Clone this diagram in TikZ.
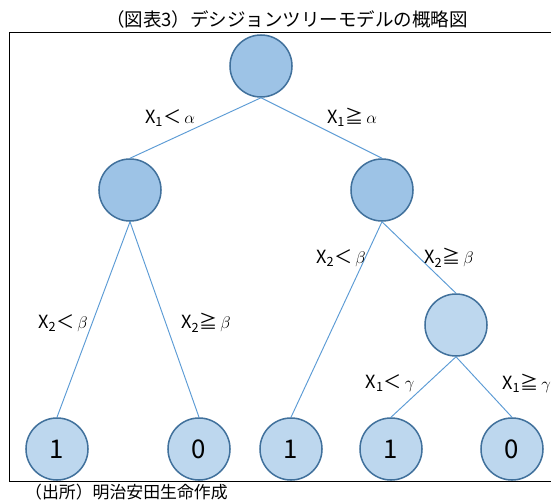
\documentclass[tikz,border=0pt]{standalone}
\usepackage{fontspec}
\setmainfont{Noto Sans CJK JP}
\usepackage{tikz}
\usetikzlibrary{positioning}
\definecolor{rim}{RGB}{65,113,156}
\definecolor{deep}{RGB}{157,195,230}
\definecolor{pale}{RGB}{189,215,238}
\definecolor{twig}{RGB}{91,155,213}
\newcommand{\cond}[3]{X\textsubscript{#1}#2\,$#3$}

\begin{document}
\begin{tikzpicture}[x=0.03cm, y=-0.03cm,
  split/.style={circle, draw=rim, line width=1.3pt, fill=deep, minimum size=1.86cm, inner sep=0pt},
  leaf/.style={split, fill=pale, font=\fontsize{22}{22}\selectfont},
  twigline/.style={draw=twig, line width=0.8pt},
  lab/.style={font=\fontsize{15.5}{15.5}\selectfont, inner sep=0pt}]
\useasboundingbox (0,0) rectangle (551,500);
\fill[white] (0,0) rectangle (551,500);
\draw[line width=0.8pt] (9,32) rectangle (580,481);
\node[font=\fontsize{15.8}{15.8}\selectfont, inner sep=0pt] (title) at (287,19) {（図表3）デシジョンツリーモデルの概略図};
\node[font=\fontsize{14.4}{14.4}\selectfont, inner sep=0pt, anchor=west] (src) at (25,492) {（出所）明治安田生命作成};
% tree
\node[split] (root) at (261,66) {};
\node[split] (lmid) at (130,190) {};
\node[split] (rmid) at (382,190) {};
\node[split, fill=pale] (rlow) at (456,325) {};
\node[leaf] (leafa) at (57,449) {1};
\node[leaf] (leafb) at (199,449) {0};
\node[leaf] (leafc) at (291,449) {1};
\node[leaf] (leafd) at (391,449) {1};
\node[leaf] (leafe) at (512,449) {0};
\draw[twigline] (root.south) -- (lmid.north);
\draw[twigline] (root.south) -- (rmid.north);
\draw[twigline] (lmid.south) -- (leafa.north);
\draw[twigline] (lmid.south) -- (leafb.north);
\draw[twigline] (rmid.south) -- (leafc.north);
\draw[twigline] (rmid.south) -- (rlow.north);
\draw[twigline] (rlow.south) -- (leafd.north);
\draw[twigline] (rlow.south) -- (leafe.north);
% conditions
\node[lab] (ca) at (170,118) {\cond{1}{＜}{\alpha}};
\node[lab] (cb) at (352,117) {\cond{1}{≧}{\alpha}};
\node[lab] (cc) at (63,323) {\cond{2}{＜}{\beta}};
\node[lab] (cd) at (206,323) {\cond{2}{≧}{\beta}};
\node[lab] (ce) at (341,258) {\cond{2}{＜}{\beta}};
\node[lab] (cf) at (449,258) {\cond{2}{≧}{\beta}};
\node[lab] (cg) at (390,383) {\cond{1}{＜}{\gamma}};
\node[lab, anchor=west] (ch) at (502,383) {\cond{1}{≧}{\gamma}};
\end{tikzpicture}
\end{document}
